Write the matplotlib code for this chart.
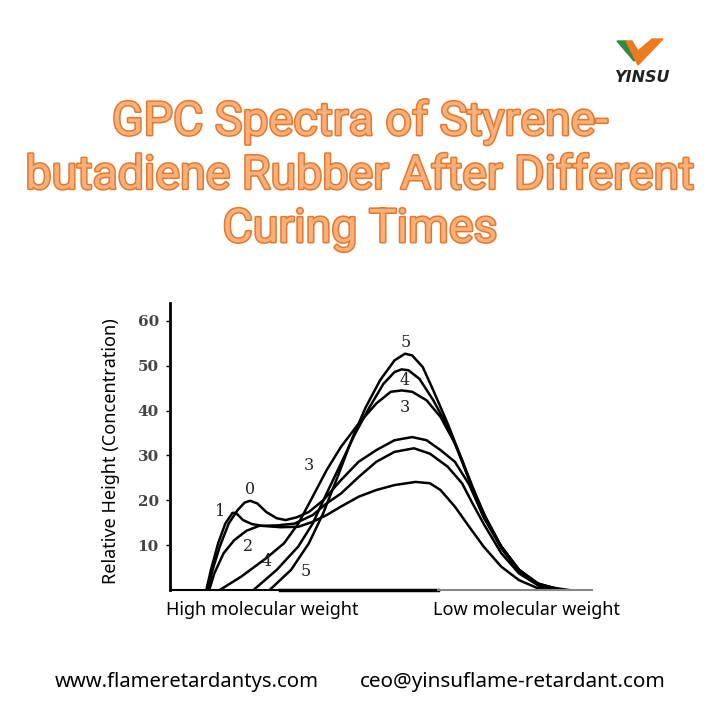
import numpy as np
import matplotlib
import matplotlib.pyplot as plt
import matplotlib.patheffects as pe
from matplotlib.patches import Polygon

matplotlib.use('agg')

# GPC curves: x is position along the elution axis (0-100), y is relative height
x0 = [8.9, 10.1, 11.8, 13.9, 16.0, 17.7, 19.0, 20.7, 22.8, 25.3, 27.4, 30.0, 32.9, 36.3, 40.5, 44.7,
      48.9, 53.2, 57.4, 60.8, 64.1, 67.5, 70.9, 74.3, 78.5, 82.7, 86.9, 92.0]
y0 = [0, 4.5, 9.7, 14.8, 17.8, 19.5, 19.9, 19.3, 17.4, 16.0, 15.6, 16.2, 17.4, 20.0, 24.5, 28.6,
      31.2, 33.4, 34.1, 33.4, 31.2, 28.6, 23.5, 16.3, 9.7, 4.5, 1.5, 0.2]

x1 = [8.6, 9.7, 11.4, 13.1, 14.8, 15.6, 17.3, 19.4, 21.9, 26.2, 30.4, 33.8, 37.1, 40.5, 44.7, 48.9,
      53.2, 58.2, 61.6, 64.1, 67.5, 70.9, 74.3, 78.5, 82.7, 86.9, 89.5]
y1 = [0, 4.5, 10.4, 14.8, 17.2, 17.2, 15.6, 14.7, 14.3, 14.0, 14.1, 15.2, 16.7, 18.6, 20.8, 22.3,
      23.4, 24.1, 23.8, 22.3, 18.6, 14.1, 9.7, 5.2, 2.2, 0.5, 0]

x2 = [9.3, 10.5, 12.7, 15.2, 18.1, 21.1, 25.3, 29.5, 33.8, 37.1, 40.5, 44.7, 48.9, 53.2, 57.8, 61.6,
      65.8, 69.2, 71.7, 74.3, 78.5, 82.7, 87.8, 92.8]
y2 = [0, 3.7, 8.2, 11.1, 13.2, 14.3, 14.4, 14.8, 16.7, 19.3, 21.5, 25.2, 28.6, 30.8, 31.6, 30.4,
      27.5, 23.8, 19.3, 14.8, 8.2, 3.7, 0.7, 0]

x3 = [11.8, 16.9, 22.8, 27.0, 30.4, 33.8, 37.1, 40.5, 44.7, 48.9, 52.3, 54.9, 57.4, 60.8, 64.1, 67.5,
      70.0, 72.6, 75.1, 78.5, 82.7, 86.9, 92.0]
y3 = [0, 3.0, 7.1, 10.4, 14.8, 20.8, 26.7, 31.9, 37.1, 41.6, 44.2, 44.5, 44.2, 42.3, 38.6, 32.7,
      26.7, 20.8, 15.6, 9.7, 4.5, 1.5, 0.2]

x4 = [19.8, 25.3, 30.4, 33.8, 37.1, 40.5, 43.9, 47.3, 50.6, 53.2, 54.9, 56.5, 59.1, 62.4, 65.8, 69.2,
      71.7, 74.3, 78.5, 82.7, 87.8, 92.8]
y4 = [0, 4.5, 9.7, 14.8, 21.5, 28.2, 34.9, 40.8, 46.0, 48.6, 49.2, 49.0, 47.1, 42.3, 36.4, 29.0,
      23.0, 17.1, 9.7, 4.5, 1.1, 0]

x5 = [23.6, 28.7, 32.9, 36.3, 39.7, 43.0, 46.4, 49.8, 53.2, 55.7, 57.4, 59.9, 62.4, 65.8, 69.2, 71.7,
      74.3, 78.5, 82.7, 87.8, 94.5]
y5 = [0, 4.5, 10.4, 17.1, 25.2, 33.4, 40.8, 46.8, 51.2, 52.7, 52.3, 49.7, 44.5, 37.1, 29.0, 22.3,
      16.3, 9.3, 4.1, 0.9, 0]

curves = [(x0, y0), (x1, y1), (x2, y2), (x3, y3), (x4, y4), (x5, y5)]

y_ticks = [10, 20, 30, 40, 50, 60]
curve_labels = ['5', '4', '3', '3', '0', '1', '2', '4', '5']
label_x = [55.9, 55.7, 55.7, 32.9, 19.0, 11.8, 18.6, 22.8, 32.1]
label_y = [55.3, 46.8, 40.8, 27.8, 22.3, 17.4, 9.7, 6.3, 4.1]

fig = plt.figure(figsize=(7.2, 7.2), dpi=100)
fig.patch.set_facecolor('white')

# title with orange outline
title_lines = ['GPC Spectra of Styrene-', 'butadiene Rubber After Different', 'Curing Times']
title_y = [0.831, 0.756, 0.682]
for line, ty in zip(title_lines, title_y):
    fig.text(0.5, ty, line, ha='center', va='center', fontsize=33.5, family='Roboto',
             color='#F7B07A', path_effects=[pe.withStroke(linewidth=2.2, foreground='#E5782C')])

# little logo top right
fig.add_artist(Polygon([[617/720, 1-41/720], [626/720, 1-41/720], [638/720, 1-56/720], [634/720, 1-61/720]],
                       closed=True, transform=fig.transFigure, color='#2E8B3E'))
fig.add_artist(Polygon([[626/720, 1-41/720], [632/720, 1-41/720], [638/720, 1-51/720], [652/720, 1-39/720],
                        [663/720, 1-39/720], [638/720, 1-65/720]],
                       closed=True, transform=fig.transFigure, color='#EE7A1E'))
fig.text(643/720, 1-77/720, 'YINSU', ha='center', va='center', fontsize=11.5, fontweight='bold',
         style='italic', family='DejaVu Sans', color='#222222')

ax = fig.add_axes([170/720, 130/720, 422/720, 287/720])
for x, y in curves:
    ax.plot(x, y, color='black', lw=1.8, solid_joinstyle='round')

for t, lx, ly in zip(curve_labels, label_x, label_y):
    ax.text(lx, ly, t, ha='center', va='center', fontsize=11.5, family='DejaVu Serif', color='#222222')

ax.set_xlim(0, 100)
ax.set_ylim(0, 64)
ax.set_xticks([])
ax.set_yticks(y_ticks)
ax.set_yticklabels([str(v) for v in y_ticks], family='DejaVu Serif', fontsize=11,
                   fontweight='bold', color='#444444')
ax.tick_params(axis='y', length=3, width=1, pad=5)
for s in ['top', 'right', 'bottom']:
    ax.spines[s].set_visible(False)
ax.spines['left'].set_linewidth(2)

# scanned baseline: black on the left, grey to the right
ax.plot([0, 26], [0, 0], color='black', lw=1.5, clip_on=False)
ax.plot([26, 63.5], [0, 0], color='black', lw=2.5, clip_on=False)
ax.plot([63.5, 100], [0, 0], color='#888888', lw=1.5, clip_on=False)

ax.set_ylabel('Relative Height (Concentration)', family='Noto Sans', fontsize=13)
ax.yaxis.set_label_coords(-0.118, 0.485)

fig.text(166/720, 1-610/720, 'High molecular weight', ha='left', va='center', family='Noto Sans', fontsize=13)
fig.text(433/720, 1-610/720, 'Low molecular weight', ha='left', va='center', family='Noto Sans', fontsize=13)

fig.text(55/720, 1-682/720, 'www.flameretardantys.com', ha='left', va='center', family='Noto Sans', fontsize=14.6)
fig.text(360/720, 1-682/720, 'ceo@yinsuflame-retardant.com', ha='left', va='center', family='Noto Sans', fontsize=14.9)

fig.savefig('out.png', dpi=100)
